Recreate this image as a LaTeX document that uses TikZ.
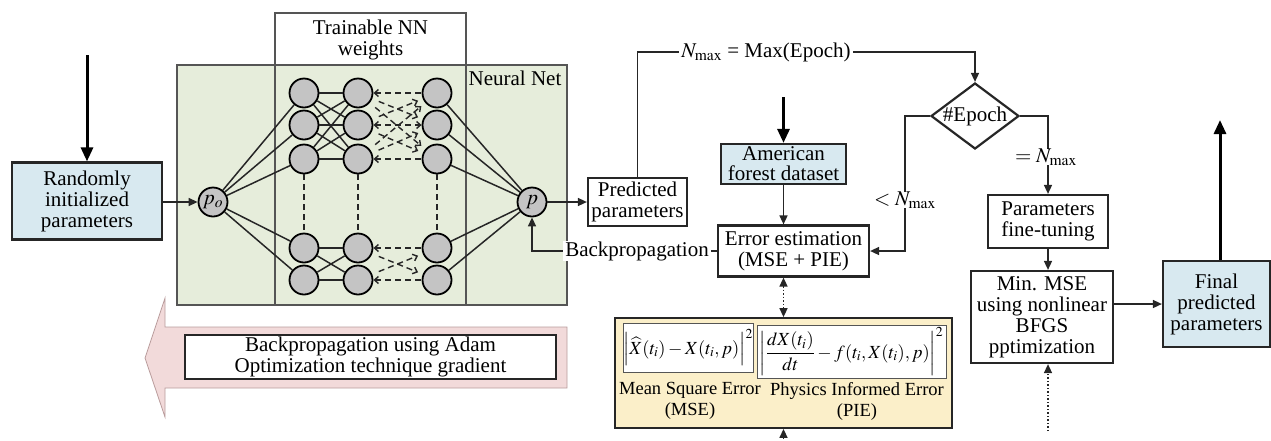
\documentclass[tikz,border=0pt]{standalone}
\usepackage{mathptmx}
\usepackage{fontspec}
\setmainfont{Liberation Serif}
\usetikzlibrary{arrows.meta,shapes.geometric,calc}

\definecolor{paleblue}{HTML}{D8E9F0}
\definecolor{palegreen}{HTML}{E6EDDB}
\definecolor{paleyellow}{HTML}{FBEFC9}
\definecolor{palepink}{HTML}{F2DADA}
\definecolor{pinkedge}{HTML}{B99C9C}
\definecolor{neuron}{HTML}{C4C4C4}
\definecolor{ink}{HTML}{262626}
\definecolor{framegray}{HTML}{555555}

\newcommand\fA{\rmfamily\fontsize{21}{21}\selectfont}
\newcommand\fB{\rmfamily\fontsize{18.5}{21}\selectfont}

\tikzset{barb/.tip={Straight Barb[length=4pt,width=7pt]}}

\begin{document}
\begin{tikzpicture}[x=1pt,y=-1pt,
  box/.style={draw=ink, line width=2.2pt, fill=white, align=center, inner sep=0pt, font=\fA},
  bluebox/.style={box, fill=paleblue},
  conn/.style={draw=ink, line width=1.5pt},
  arr/.style={conn, -{Triangle[length=9pt,width=8pt]}},
  bigarr/.style={draw=black, line width=3pt, -{Triangle[length=14pt,width=12pt]}},
  neu/.style={circle, draw=black, line width=1.8pt, fill=neuron, minimum size=29pt, inner sep=0pt, font=\fA},
  wdash/.style={draw=ink, line width=1.4pt, dash pattern=on 6pt off 4pt},
  lab/.style={fill=white, inner xsep=2pt, inner ysep=0pt, font=\fA},
  plain/.style={inner sep=0pt, align=center, font=\fA}]

\useasboundingbox (0,0) rectangle (1271,440);

% ---------- neural network block ----------
\draw[draw=framegray, line width=1.5pt, fill=palegreen] (177,65) rectangle (567,305);
\draw[draw=framegray, line width=1.5pt] (275,13) rectangle (466,305);
\node[plain] (tw) at (370.5,40) {Trainable NN\\weights};
\node[plain] (nn) at (515,78) {Neural Net};

% neurons
\foreach \c/\x in {1/304,2/358,3/437}
  \foreach \r/\y in {1/93,2/125,3/159,4/248,5/280}
    \node[neu] (n\c\r) at (\x,\y) {};
\node[neu] (po) at (213,202) {$p_o$};
\node[neu] (p) at (532,202) {$p$};

% solid weights
\foreach \r in {1,...,5} \draw[conn] (po) -- (n1\r);
\foreach \a in {1,2,3} \foreach \b in {1,2,3} \draw[conn] (n1\a) -- (n2\b);
\foreach \a in {4,5} \foreach \b in {4,5} \draw[conn] (n1\a) -- (n2\b);
\foreach \r in {1,...,5} \draw[conn] (n3\r) -- (p);
\foreach \c in {1,2,3} \draw[wdash] (n\c3) -- (n\c4);

% hidden dashed weights
\foreach \r in {1,3,4,5} \draw[wdash, barb-] (n2\r) -- (n3\r);
\draw[wdash, barb-barb] (n22) -- (n32);
\foreach \a/\b in {1/2,1/3,2/1,2/3,3/1,3/2,4/5,5/4}
  \draw[wdash, -barb, shorten <=7pt, shorten >=5pt] (n2\a) -- (n3\b);

% ---------- input ----------
\node[bluebox, minimum width=150, minimum height=77] (rand) at (87,201) {Randomly\\initialized\\parameters};
\coordinate (randin) at (87,55);
\draw[bigarr] (randin) -- (rand.north);
\draw[arr] (rand.east |- po) -- (po.west);

% ---------- adam arrow ----------
\draw[draw=pinkedge, line width=0.8pt, fill=palepink]
  (567,327) -- (165,327) -- (165,298) -- (145,358) -- (165,417) -- (165,388) -- (567,388) -- cycle;
\node[draw=ink, line width=1.6pt, fill=white, minimum width=371, minimum height=44, inner sep=0pt, align=center, font=\fA]
  (adam) at (370.5,357) {Backpropagation using Adam\\Optimization technique gradient};

% ---------- prediction and error ----------
\node[box, minimum width=99, minimum height=48] (pred) at (637.5,202) {Predicted\\parameters};
\draw[arr] (p.east) -- (pred.west);

\node[bluebox, minimum width=125, minimum height=40, font=\rmfamily\fontsize{21}{20}\selectfont] (data) at (783.5,164) {American\\forest dataset};
\coordinate (datain) at (783.5,97);
\draw[bigarr] (datain) -- (data.north);

\node[box, minimum width=151, minimum height=51] (err) at (793.5,251) {Error estimation\\(MSE + PIE)};
\draw[arr] (data.south) -- (data.south |- err.north);

\coordinate (bp) at (532,251);
\draw[arr] (err.west) -- (bp) -- (p.south);
\node[lab] (bptxt) at (637,251) {Backpropagation};

% ---------- error terms ----------
\node[draw=ink, line width=1.8pt, fill=paleyellow, minimum width=337, minimum height=110, inner sep=0pt] (ylw) at (783.5,373) {};
\node[draw=framegray, line width=1pt, fill=white, minimum width=130, minimum height=49, inner sep=0pt, font=\fB]
  (mse) at (688,347.5) {$\left|\widehat{X}(t_i)-X(t_i,p)\right|^2$};
\node[draw=framegray, line width=1pt, fill=white, minimum width=189, minimum height=53, inner sep=0pt, font=\fB]
  (pie) at (851.5,351.5) {$\left|\displaystyle\frac{dX(t_i)}{dt}-f(t_i,X(t_i),p)\right|^2$};
\node[plain, font=\fB] (msel) at (690,401) {Mean Square Error\\(MSE)};
\node[plain, font=\fB] (piel) at (857,401) {Physics Informed Error\\(PIE)};
\draw[conn, dotted, {Triangle[length=9pt,width=8pt]}-{Triangle[length=9pt,width=8pt]}] (err.south -| ylw.north) -- (ylw.north);
\coordinate (ylwin) at (783.5,442);
\draw[arr, dotted] (ylwin) -- (ylw.south);

% ---------- epoch loop ----------
\node[diamond, draw=ink, line width=2.2pt, fill=white, minimum width=88, minimum height=66, inner sep=0pt] (ep) at (975,116) {};
\node[plain] (eptxt) at (ep) {\#Epoch};

\coordinate (tl) at (637.5,52);
\coordinate (tr) at (975,52);
\draw[arr] (pred.north) -- (tl) -- (tr) -- (ep.north);
\node[lab] (nmax) at (766,52) {$N_{\mathrm{max}}$ = Max(Epoch)};

\coordinate (lt) at (905,251);
\draw[arr] (ep.west) -| (lt) -- (err.east);
\node[lab] (ltxt) at (905,200) {$<N_{\mathrm{max}}$};

\node[box, minimum width=120, minimum height=53] (fine) at (1048,221.5) {Parameters\\fine-tuning};
\draw[arr] (ep.east) -| (fine.north);
\node[lab] (eqtxt) at (1046,157) {$=N_{\mathrm{max}}$};

\node[box, minimum width=142, minimum height=92] (minmse) at (1042,317) {Min. MSE\\using nonlinear\\BFGS\\pptimization};
\draw[arr] (fine.south) -- (fine.south |- minmse.north);
\coordinate (minin) at (1048,431);
\draw[arr, dotted] (minin) -- (minin |- minmse.south);

\node[bluebox, minimum width=107, minimum height=86] (final) at (1216.5,304) {Final\\predicted\\parameters};
\draw[arr] (final.west -| minmse.east) -- (final.west);
\coordinate (finout) at (1220,120);
\draw[bigarr] (final.north -| finout) -- (finout);

\end{tikzpicture}
\end{document}
